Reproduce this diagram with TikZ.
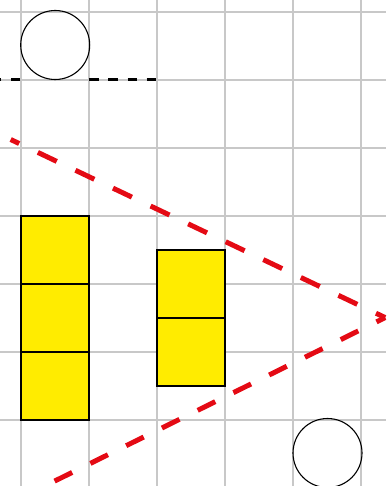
\documentclass[tikz,border=0pt]{standalone}
\definecolor{gridgray}{RGB}{200,200,200}
\definecolor{boxyellow}{RGB}{255,236,0}
\definecolor{conered}{RGB}{228,10,20}
\begin{document}
\begin{tikzpicture}[x=1pt,y=-1pt,
  gridline/.style={draw=gridgray,line width=2pt},
  cell/.style={rectangle,draw=black,fill=boxyellow,line width=1.8pt,minimum size=68pt,inner sep=0pt,outer sep=0pt},
  token/.style={circle,draw=black,line width=1.1pt,minimum size=69pt,inner sep=0pt,outer sep=0pt},
  blackdash/.style={draw=black,line width=2.4pt,dash pattern=on 9.5pt off 9.6pt},
  redup/.style={draw=conered,line width=5pt,dash pattern=on 20.9pt off 20.7pt,dash phase=10.7pt},
  redlow/.style={draw=conered,line width=5pt,dash pattern=on 19.6pt off 20.3pt,dash phase=9.9pt}
]
\useasboundingbox (0,0) rectangle (386,486);
\clip (0,0) rectangle (386,486);
% grid
\foreach \x in {21.3,89.3,157.3,225.3,293.3,361.3}
  \draw[gridline] (\x,0) -- (\x,486);
\foreach \y in {11.7,79.7,147.7,215.7,283.7,351.7,419.7}
  \draw[gridline] (0,\y) -- (386,\y);
% yellow cells
\node[cell] (a1) at (55.3,250) {};
\node[cell] (a2) at (55.3,318) {};
\node[cell] (a3) at (55.3,386) {};
\node[cell] (b1) at (191.3,284) {};
\node[cell] (b2) at (191.3,352) {};
% circles
\node[token] (c1) at (55.2,45) {};
\node[token] (c2) at (327.5,453) {};
% black dashed line
\coordinate (dl1) at (20.4,79.7);
\coordinate (dl2) at (-10,79.7);
\coordinate (dr1) at (89.3,79.7);
\coordinate (dr2) at (156.2,79.7);
\draw[blackdash] (dl1) -- (dl2);
\draw[blackdash] (dr1) -- (dr2);
% red cone
\coordinate (apex) at (385.2,317.6);
\coordinate (upend) at (10.7,139.5);
\coordinate (lowend) at (20,498.2);
\draw[redup] (apex) -- (upend);
\draw[redlow] (apex) -- (lowend);
\end{tikzpicture}
\end{document}
